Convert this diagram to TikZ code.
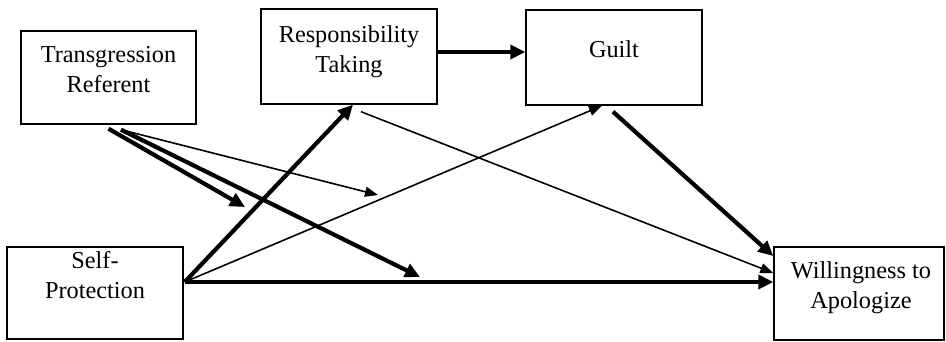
\documentclass[tikz,border=0pt]{standalone}
\usepackage{fontspec}
\setmainfont{Liberation Serif}
\usetikzlibrary{arrows.meta}
\begin{document}
\begin{tikzpicture}[x=1pt,y=-1pt,
  box/.style={draw=black, line width=1.4pt, inner sep=0pt},
  lbl/.style={align=center, anchor=base, inner sep=0pt, font=\fontsize{24.3pt}{29.5pt}\selectfont},
  thickarrow/.style={line width=4.2pt, -{Triangle[length=15pt,width=14pt]}},
  thinarrow/.style={line width=1.6pt, -{Triangle[length=13pt,width=10pt]}}]
\useasboundingbox (0,0) rectangle (946,341);
% boxes
\node[box, minimum width=175pt, minimum height=93pt] (tr) at (108.5,77.5) {};
\node[box, minimum width=176pt, minimum height=95pt] (rt) at (349,56.5) {};
\node[box, minimum width=176pt, minimum height=95pt] (gu) at (614,57.5) {};
\node[box, minimum width=176pt, minimum height=92pt] (sp) at (95,293) {};
\node[box, minimum width=170pt, minimum height=93pt] (wa) at (859,293.5) {};
% labels (base = baseline of last line)
\node[lbl] (trt) at (108.5,92) {Transgression\\Referent};
\node[lbl] (rtt) at (349,72) {Responsibility\\Taking};
\node[lbl] (gut) at (614,57) {Guilt};
\node[lbl] (spt) at (95,298) {Self-\\Protection};
\node[lbl] (wat) at (861,308) {Willingness to\\Apologize};
% free ends
\coordinate (a1) at (245,207);
\coordinate (a2) at (420,277);
\coordinate (a3) at (378,195);
% connectors
\draw[thickarrow] ([yshift=4.5pt]rt.east) -- ([yshift=5.5pt]gu.west);
\draw[thickarrow] ([shift={(-1pt,-6pt)}]gu.south) -- ([yshift=37.5pt]wa.west);
\draw[thinarrow] ([shift={(12pt,-7pt)}]rt.south) -- ([yshift=20.5pt]wa.west);
\draw[thickarrow] ([shift={(1pt,11pt)}]sp.east) -- ([yshift=11.5pt]wa.west);
\draw[thickarrow] ([shift={(1pt,11pt)}]sp.east) -- ([xshift=4pt]rt.south);
\draw[thinarrow] ([shift={(1pt,11pt)}]sp.east) -- ([xshift=-12pt]gu.south);
\draw[thickarrow] ([yshift=-4pt]tr.south) -- (a1);
\draw[thickarrow] ([shift={(12.5pt,-5pt)}]tr.south) -- (a2);
\draw[thinarrow] ([shift={(12.5pt,-5pt)}]tr.south) -- (a3);
\end{tikzpicture}
\end{document}
